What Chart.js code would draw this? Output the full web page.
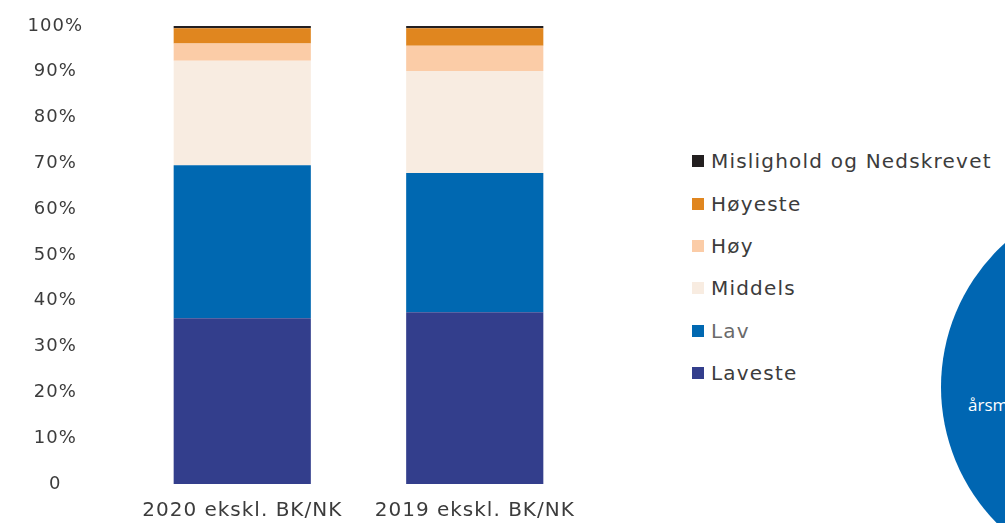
<!DOCTYPE html>
<html lang="no">
<head>
  <meta charset="UTF-8">
  <title>Fordeling etter risikoklasse</title>
  <script src="https://cdn.jsdelivr.net/npm/chart.js"></script>
  <style>
    body {
      margin: 0;
      width: 1005px;
      height: 523px;
      overflow: hidden;
      background: #fff;
      font-family: "DejaVu Sans", sans-serif;
      position: relative;
    }
    #wrap {
      position: absolute;
      left: 0;
      top: 0;
      width: 620px;
      height: 523px;
    }
    #legend {
      position: absolute;
      left: 692px;
      top: 140px;
    }
    .row {
      display: flex;
      align-items: center;
      height: 42.4px;
      font-size: 20px;
      letter-spacing: 1.2px;
      color: #3c3c3c;
    }
    .box {
      width: 12px;
      height: 12px;
      margin-right: 7px;
    }
    #circle {
      position: absolute;
      left: 941px;
      top: 193px;
      width: 388px;
      height: 388px;
      border-radius: 50%;
      background: #0066b2;
    }
    #circleText {
      position: absolute;
      left: 968px;
      top: 393px;
      color: #fff;
      font-family: "Open Sans", sans-serif;
      font-size: 17px;
      white-space: nowrap;
    }
  </style>
</head>
<body>
  <div id="wrap"><canvas id="chart" width="620" height="523"></canvas></div>
  <div id="legend"></div>
  <div id="circle"></div>
  <div id="circleText">årsmelding</div>

  <script>
    const categories = ['2020 ekskl. BK/NK', '2019 ekskl. BK/NK'];
    const laveste = [36.2, 37.5];
    const lav = [33.4, 30.4];
    const middels = [22.8, 22.3];
    const hoy = [3.8, 5.5];
    const hoyeste = [3.3, 3.8];
    const mislighold = [0.5, 0.5];
    const yTicks = [0, 10, 20, 30, 40, 50, 60, 70, 80, 90, 100];

    const seriesNames = ['Laveste', 'Lav', 'Middels', 'Høy', 'Høyeste', 'Mislighold og Nedskrevet'];
    const seriesData = [laveste, lav, middels, hoy, hoyeste, mislighold];
    const seriesColors = ['#333e8c', '#0068b1', '#f8ece1', '#fbcca7', '#e0861f', '#231f20'];

    // canvas text in the original is wide, add a bit of letter spacing
    const spacing = {
      id: 'spacing',
      beforeUpdate(chart) { chart.ctx.letterSpacing = '1px'; },
      beforeDraw(chart) { chart.ctx.letterSpacing = '1px'; }
    };

    const ctx = document.getElementById('chart').getContext('2d');
    new Chart(ctx, {
      type: 'bar',
      data: {
        labels: categories,
        datasets: seriesNames.map((name, i) => ({
          label: name,
          data: seriesData[i],
          backgroundColor: seriesColors[i],
          borderWidth: 0,
          barPercentage: 0.59,
          categoryPercentage: 1
        }))
      },
      options: {
        responsive: false,
        animation: false,
        layout: { padding: { top: 26, right: 29, bottom: 0, left: 0 } },
        plugins: {
          legend: { display: false },
          tooltip: { enabled: false }
        },
        scales: {
          x: {
            stacked: true,
            // padding counts twice in the height, keep only the gap above the labels
            afterFit: (scale) => { scale.height = 39; },
            grid: { display: false, drawTicks: false },
            border: { display: false },
            ticks: {
              padding: 15,
              color: '#3c3c3c',
              font: { family: 'DejaVu Sans', size: 20 }
            }
          },
          y: {
            stacked: true,
            min: 0,
            max: 100,
            afterBuildTicks: (scale) => { scale.ticks = yTicks.map(v => ({ value: v })); },
            afterFit: (scale) => {
              // tick padding is only meant to push labels left, not shrink the plot
              scale.width = 126;
              scale.paddingTop = 0;
              scale.paddingBottom = 0;
            },
            grid: { display: false, drawTicks: false },
            border: { display: false },
            ticks: {
              crossAlign: 'center',
              padding: 43,
              color: '#3c3c3c',
              font: { family: 'DejaVu Sans', size: 18 },
              callback: (v) => v === 0 ? '0' : v + '%'
            }
          }
        }
      },
      plugins: [spacing]
    });

    // legend, top entry first like the original
    const legend = document.getElementById('legend');
    for (let i = seriesNames.length - 1; i >= 0; i--) {
      const row = document.createElement('div');
      row.className = 'row';
      if (seriesNames[i] === 'Lav') row.style.color = '#6a6a6a';
      row.innerHTML = `<span class="box" style="background:${seriesColors[i]}"></span>${seriesNames[i]}`;
      legend.appendChild(row);
    }
  </script>
</body>
</html>
